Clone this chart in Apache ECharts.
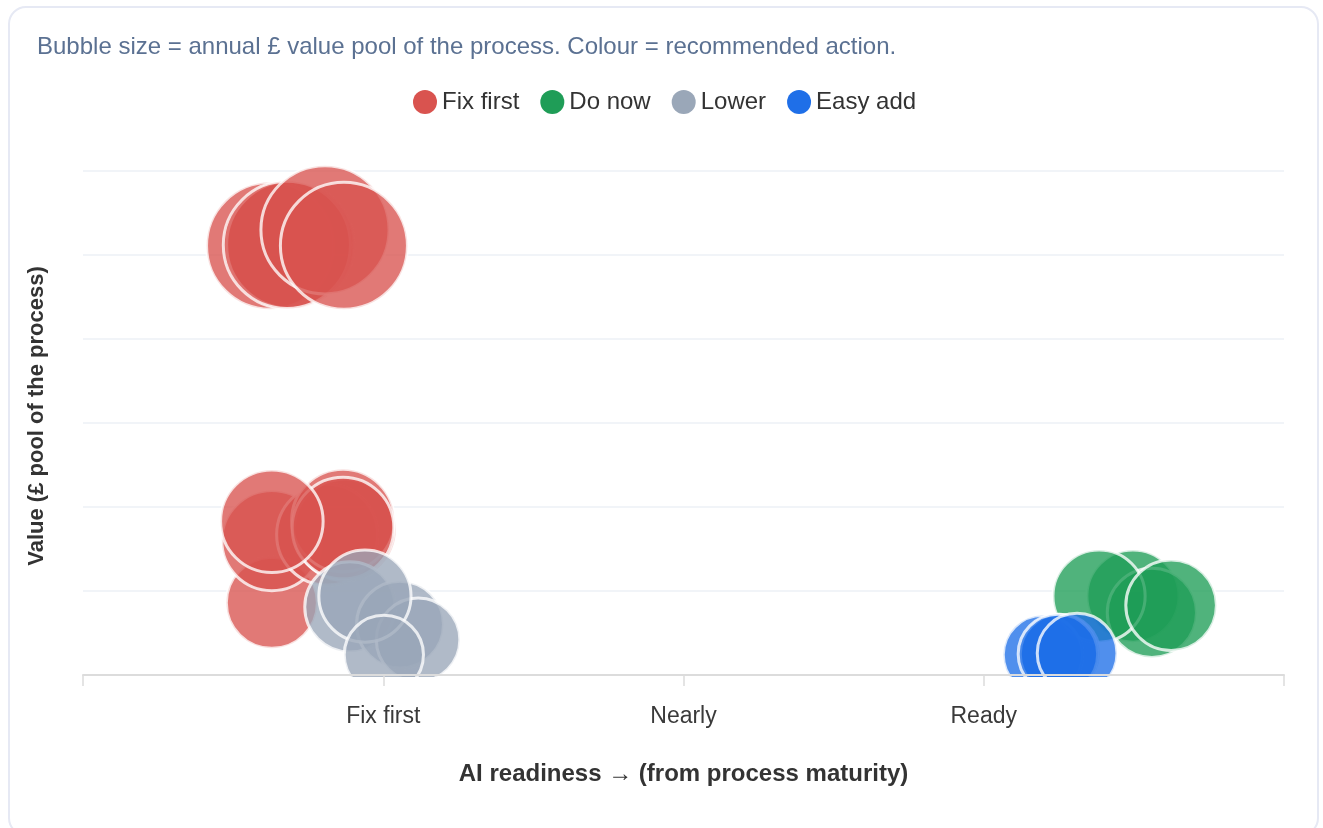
<!DOCTYPE html>
<html>
<head>
<meta charset="utf-8">
<script src="https://cdn.jsdelivr.net/npm/echarts@6/dist/echarts.min.js"></script>
<style>
  html, body { margin: 0; padding: 0; background: #fff; width: 1323px; height: 828px; overflow: hidden; }
  #card { position: absolute; left: 8px; top: 6px; width: 1311px; height: 830px; border: 2px solid #e6e9f4; border-radius: 18px; box-sizing: border-box; }
  #chart { position: absolute; left: 0; top: 0; width: 1323px; height: 828px; }
</style>
</head>
<body>
<div id="card"></div>
<div id="chart"></div>
<script>
// ---- data ----
const subtitle = 'Bubble size = annual £ value pool of the process. Colour = recommended action.';
const xTickLabels = ['', 'Fix first', 'Nearly', 'Ready', ''];
const xName = 'AI readiness → (from process maturity)';
const yName = 'Value (£ pool of the process)';
const categories = ['Fix first', 'Do now', 'Lower', 'Easy add'];
const colors = ['#d9534f', '#1f9d57', '#9aa7b8', '#1f6fe8'];

// [readiness, value £k]
const fixFirst = [
  [0.623, 511], [0.69, 512], [0.679, 512], [0.806, 530], [0.869, 511],
  [0.629, 86], [0.629, 160], [0.813, 167], [0.873, 173], [0.866, 184], [0.866, 175], [0.629, 183]
];
const doNow = [
  [3.497, 94], [3.56, 74], [3.384, 94], [3.624, 83]
];
const lower = [
  [0.889, 81], [1.056, 60], [1.116, 42], [0.939, 94], [1.002, 24]
];
const easyAdd = [
  [3.197, 24], [3.254, 25], [3.247, 25], [3.311, 26]
];
const seriesData = [fixFirst, doNow, lower, easyAdd];

const chart = echarts.init(document.getElementById('chart'));
const font = '"Liberation Sans", Arial, sans-serif';

chart.setOption({
  textStyle: { fontFamily: font },
  title: {
    text: subtitle,
    left: 32, top: 30,
    textStyle: { fontSize: 24, fontWeight: 'normal', color: '#5b7192', fontFamily: font }
  },
  legend: {
    top: 85, left: 408,
    itemWidth: 24, itemHeight: 24, itemGap: 21,
    icon: 'circle',
    itemStyle: { opacity: 1, borderWidth: 0 },
    textStyle: { fontSize: 24, color: '#333', fontFamily: font },
    data: categories
  },
  grid: { left: 83, right: 39, top: 171, bottom: 153, containLabel: false },
  // white band that trims bubbles at the bottom of the plot area (under the axis)
  graphic: [{
    type: 'rect', z: 3, silent: true,
    shape: { x: 84, y: 677, width: 1200, height: 40 },
    style: { fill: '#ffffff' }
  }],
  xAxis: {
    type: 'value', min: 0, max: 4, interval: 1, z: 5,
    name: xName, nameLocation: 'middle', nameGap: 87,
    nameTextStyle: { fontSize: 24, fontWeight: 'bold', color: '#333' },
    axisLine: { show: true, lineStyle: { color: '#dcdcdc', width: 2 } },
    axisTick: { show: true, length: 11, lineStyle: { color: '#dcdcdc', width: 1.5 } },
    axisLabel: { fontSize: 23, color: '#3a3a3a', margin: 30, formatter: v => xTickLabels[Math.round(v)] || '' },
    splitLine: { show: false }
  },
  yAxis: {
    type: 'value', min: 0, max: 600, interval: 100,
    name: yName, nameLocation: 'middle', nameGap: 35,
    nameTextStyle: { fontSize: 22, fontWeight: 'bold', color: '#333', padding: [0, 0, 0, 14] },
    axisLine: { show: false }, axisTick: { show: false },
    axisLabel: { show: false },
    splitLine: { lineStyle: { color: '#edf1f6', width: 1.5 } }
  },
  series: categories.map((name, i) => ({
    name, type: 'scatter',
    data: seriesData[i],
    symbolSize: v => 66 + 27 * Math.sqrt(v[1] / 100),
    itemStyle: { color: colors[i], opacity: 0.78, borderColor: '#ffffff', borderWidth: 3 },
    emphasis: { disabled: true }
  }))
});
</script>
</body>
</html>
